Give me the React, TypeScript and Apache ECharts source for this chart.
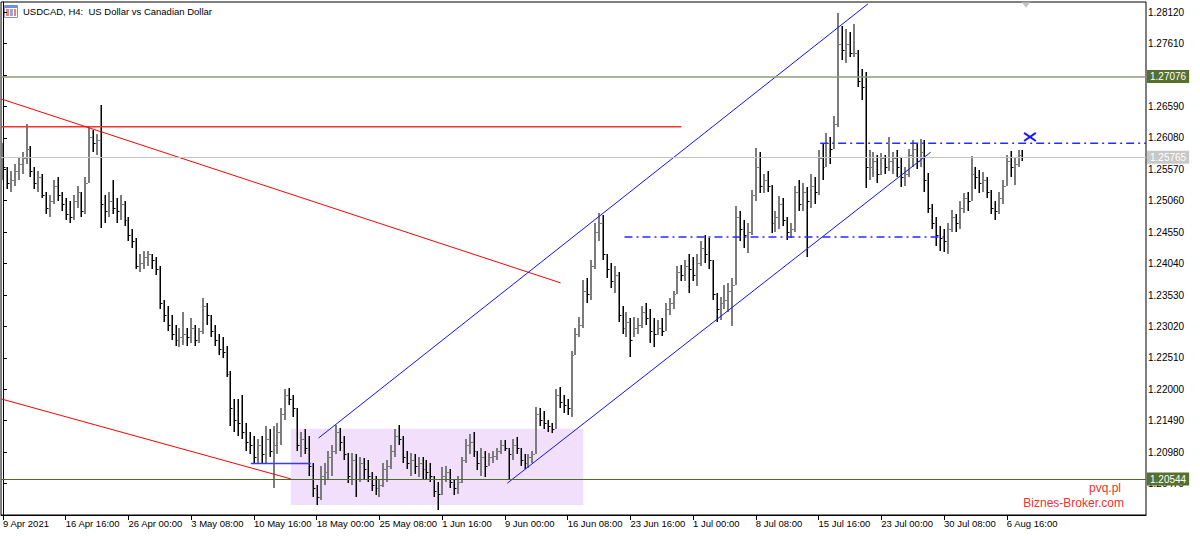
import React, { useEffect, useRef } from "react";
import * as echarts from "echarts";

// Prices are stored in points (0.0001) above 1.20000
const BASE = 1.2;
const POINT = 0.0001;
const FIRST_OPEN = 575;

// 8-hour bars
const HIGH = [
  600, 560, 555, 565, 575, 585, 631, 595, 560, 555, 550, 520, 515, 540, 545, 520, 510, 505, 515, 530,
  520, 545, 625, 620, 615, 661, 515, 520, 540, 510, 515, 505, 480, 460, 445, 420, 425, 425, 420, 415,
  400, 345, 335, 320, 305, 300, 325, 300, 315, 305, 300, 348, 340, 320, 305, 290, 285, 270, 230, 185,
  185, 190, 145, 130, 125, 120, 125, 140, 135, 140, 145, 170, 200, 202, 190, 170, 130, 135, 125, 80,
  45, 75, 80, 100, 110, 142, 137, 125, 97, 97, 95, 90, 88, 85, 65, 60, 55, 80, 85, 110,
  135, 142, 125, 100, 97, 95, 90, 90, 85, 80, 60, 50, 74, 75, 70, 55, 60, 90, 120, 128,
  131, 100, 105, 100, 97, 100, 105, 118, 118, 105, 120, 123, 105, 95, 95, 100, 172, 170, 165, 150,
  145, 200, 204, 190, 185, 262, 300, 318, 378, 380, 410, 470, 486, 483, 420, 405, 400, 390, 335, 325,
  315, 318, 315, 335, 340, 330, 315, 313, 315, 340, 348, 360, 400, 402, 410, 420, 415, 420, 440, 451,
  445, 410, 356, 350, 370, 372, 380, 497, 490, 475, 470, 523, 591, 585, 550, 555, 532, 490, 513, 510,
  480, 470, 530, 540, 535, 529, 550, 545, 589, 600, 616, 610, 643, 810, 789, 785, 780, 792, 750, 720,
  715, 589, 585, 580, 583, 580, 610, 585, 589, 575, 560, 590, 605, 600, 606, 605, 551, 500, 480, 465,
  460, 470, 491, 485, 505, 518, 520, 578, 560, 556, 552, 545, 524, 505, 520, 540, 580, 586, 575, 588,
  589,
];
const LOW = [
  540, 525, 520, 530, 540, 550, 565, 545, 525, 520, 510, 485, 480, 500, 505, 490, 475, 470, 475, 495,
  480, 485, 535, 585, 580, 462, 470, 480, 485, 470, 475, 465, 440, 430, 395, 390, 395, 400, 395, 385,
  330, 310, 295, 280, 270, 268, 272, 270, 275, 270, 275, 290, 305, 285, 270, 255, 250, 220, 140, 130,
  125, 120, 100, 95, 78, 78, 80, 80, 90, 40, 95, 110, 150, 175, 155, 100, 90, 95, 60, 25,
  12, 20, 45, 55, 60, 95, 100, 85, 48, 45, 25, 50, 55, 50, 35, 28, 25, 42, 50, 70,
  90, 110, 80, 70, 60, 62, 58, 55, 53, 50, 25, 4, 28, 50, 40, 29, 30, 48, 80, 95,
  90, 69, 60, 58, 75, 80, 85, 95, 100, 53, 85, 95, 75, 70, 72, 80, 95, 140, 135, 130,
  129, 135, 170, 162, 158, 155, 255, 285, 300, 340, 345, 395, 440, 410, 380, 365, 356, 310, 290, 285,
  252, 285, 290, 300, 305, 275, 269, 288, 286, 295, 320, 330, 355, 375, 375, 356, 375, 367, 400, 405,
  395, 345, 310, 313, 330, 325, 302, 370, 440, 430, 421, 450, 505, 518, 518, 520, 453, 455, 460, 465,
  442, 445, 455, 490, 490, 415, 495, 500, 515, 540, 560, 565, 590, 625, 735, 730, 740, 740, 690, 670,
  526, 540, 545, 535, 548, 550, 555, 550, 545, 529, 530, 545, 560, 558, 560, 520, 486, 460, 432, 425,
  423, 420, 455, 455, 460, 486, 490, 505, 525, 518, 520, 510, 485, 475, 485, 500, 530, 545, 532, 560,
  570,
];
const CLOSE = [
  560, 535, 540, 555, 565, 575, 590, 555, 535, 545, 515, 495, 505, 530, 515, 500, 485, 480, 505, 520,
  490, 535, 610, 600, 605, 500, 490, 505, 495, 490, 500, 475, 450, 440, 400, 405, 415, 420, 410, 395,
  340, 320, 305, 290, 280, 285, 290, 285, 300, 280, 295, 335, 320, 295, 280, 265, 260, 225, 170, 150,
  145, 130, 115, 110, 90, 110, 95, 120, 100, 110, 130, 160, 190, 185, 170, 110, 120, 105, 75, 40,
  25, 60, 65, 90, 100, 130, 115, 95, 60, 85, 55, 80, 70, 60, 45, 40, 45, 70, 75, 100,
  125, 120, 90, 80, 85, 75, 80, 70, 65, 60, 35, 30, 60, 65, 50, 40, 50, 85, 110, 115,
  100, 80, 90, 75, 90, 92, 100, 110, 105, 95, 110, 105, 85, 80, 90, 95, 160, 150, 145, 140,
  135, 190, 180, 175, 170, 255, 290, 305, 360, 355, 400, 455, 470, 420, 395, 375, 385, 320, 300, 310,
  280, 300, 305, 325, 315, 295, 290, 300, 295, 330, 340, 355, 390, 385, 400, 395, 385, 405, 430, 420,
  410, 355, 330, 340, 345, 360, 370, 480, 460, 450, 455, 515, 560, 530, 540, 530, 470, 480, 500, 475,
  455, 460, 520, 500, 520, 505, 530, 520, 575, 560, 600, 590, 630, 760, 750, 760, 745, 745, 700, 690,
  560, 560, 570, 550, 575, 560, 570, 575, 560, 545, 550, 580, 590, 570, 585, 540, 495, 470, 450, 445,
  440, 460, 480, 470, 495, 510, 505, 550, 545, 535, 540, 520, 495, 490, 510, 530, 570, 560, 565, 580,
  577,
];

const TICK_LABELS = [
  "9 Apr 2021", "16 Apr 16:00", "26 Apr 00:00", "3 May 08:00", "10 May 16:00", "18 May 00:00",
  "25 May 08:00", "1 Jun 16:00", "9 Jun 00:00", "16 Jun 08:00", "23 Jun 16:00", "1 Jul 00:00",
  "8 Jul 08:00", "15 Jul 16:00", "23 Jul 00:00", "30 Jul 08:00", "6 Aug 16:00",
];
const BARS_PER_LABEL = 16;
const SLOTS = 292; // bars + empty shift on the right

const Y_MIN = 1.1996;
const Y_MAX = 1.28285;
const Y_STEP = 0.0051;

// horizontal price levels with tags on the price scale
const LEVEL_PRICES = [1.27076, 1.25765, 1.20544];
const LEVEL_KINDS = ["green", "gray", "dark"];

// drawn objects, in (bar index, price)
const RED_LEVEL = [[-0.5, 1.26259], [173, 1.26259]];
const RED_TREND_UPPER = [[-0.5, 1.26713], [142.2, 1.23727]];
const RED_TREND_LOWER = [[-0.5, 1.21844], [73.4, 1.20546]];
const BLUE_CHANNEL_UPPER = [[80.5, 1.21210], [220.6, 1.28255]];
const BLUE_CHANNEL_LOWER = [[128.6, 1.20476], [236.6, 1.25848]];
const BLUE_SHORT_LEVEL = [[63.2, 1.20795], [78.5, 1.20795]];
const BLUE_DASH_UPPER = [[208.4, 1.25994], [291.5, 1.25994]];
const BLUE_DASH_LOWER = [[158.5, 1.24473], [240.8, 1.24473]];
const BOX_ZONE = [[73.4, 1.21358], [148, 1.20124]];
const CROSS_A = [[260.4, 1.26160], [263.4, 1.26030]];
const CROSS_B = [[260.4, 1.26030], [263.4, 1.26160]];
const SHIFT_MARK = [[260.9, 1.28240]];

const FONT = "'Liberation Sans', Arial, sans-serif";

const toPrice = (v: number) => +(BASE + v * POINT).toFixed(5);

export default function App() {
  const ref = useRef<HTMLDivElement>(null);

  useEffect(() => {
    if (!ref.current) return;
    const chart = echarts.init(ref.current, undefined, { renderer: "svg" });

    const categories = Array.from({ length: SLOTS }, (_, i) =>
      i % BARS_PER_LABEL === 0 && TICK_LABELS[i / BARS_PER_LABEL] ? TICK_LABELS[i / BARS_PER_LABEL] : "bar " + i
    );
    const bars = CLOSE.map((c, i) => {
      const o = i === 0 ? FIRST_OPEN : CLOSE[i - 1];
      return [i, toPrice(o), toPrice(c), toPrice(LOW[i]), toPrice(HIGH[i])];
    });
    const isLabel = (i: number) => i % BARS_PER_LABEL === 0 && i / BARS_PER_LABEL < TICK_LABELS.length;

    const seg = (data: number[][], color: string, width: number, type: any = "solid", z = 3) => ({
      type: "line",
      xAxisIndex: 1,
      yAxisIndex: 0,
      data,
      symbol: "none",
      silent: true,
      z,
      lineStyle: { color, width, type },
    });

    const levelStyle: Record<string, any> = {
      green: { line: "#8c9c70", width: 1.5, bg: "#56702f", fg: "#ffffff" },
      gray: { line: "#c4c4c4", width: 1, bg: "#c8c8c8", fg: "#ffffff" },
      dark: { line: "#4e6a2a", width: 1, bg: "#56702f", fg: "#ffffff" },
    };

    const UP = "#7c7c7c";
    const DOWN = "#000000";
    const renderBar = (params: any, api: any) => {
      const i = api.value(0);
      const o = api.value(1);
      const c = api.value(2);
      const pH = api.coord([i, api.value(4)]);
      const pL = api.coord([i, api.value(3)]);
      const pO = api.coord([i, o]);
      const pC = api.coord([i, c]);
      const x = Math.round(pH[0]);
      const up = c >= o;
      const top = Math.round(pH[1]);
      const h = Math.max(1, Math.round(pL[1]) - top);
      return {
        type: "group",
        children: [
          { type: "rect", shape: { x: x - 1, y: top, width: 1, height: h }, style: { fill: UP } },
          { type: "rect", shape: { x: x, y: top, width: 1, height: h }, style: { fill: up ? UP : DOWN } },
          { type: "rect", shape: { x: x - 2, y: Math.round(pO[1]), width: 1, height: 1 }, style: { fill: UP } },
          { type: "rect", shape: { x: x + 1, y: Math.round(pC[1]), width: 1, height: 1 }, style: { fill: up ? UP : DOWN } },
        ],
      };
    };

    const option: any = {
      animation: false,
      backgroundColor: "#ffffff",
      textStyle: { fontFamily: FONT },
      grid: {
        left: 1,
        right: 54,
        top: 2,
        bottom: 21,
        show: true,
        borderColor: "#000",
        borderWidth: 1,
        backgroundColor: "transparent",
      },
      xAxis: [
        {
          type: "category",
          data: categories,
          boundaryGap: true,
          axisLine: { show: true, lineStyle: { color: "#000", width: 1 } },
          axisTick: {
            show: true,
            alignWithLabel: true,
            interval: (i: number) => isLabel(i),
            length: 5,
            lineStyle: { color: "#000" },
          },
          axisLabel: {
            interval: (i: number) => isLabel(i),
            formatter: (_v: string, i: number) => (isLabel(i) ? TICK_LABELS[i / BARS_PER_LABEL] : ""),
            align: "left",
            fontSize: 9.5,
            color: "#000",
            margin: 3,
            fontFamily: FONT,
          },
          splitLine: { show: false },
        },
        { type: "value", min: -0.5, max: SLOTS - 0.5, show: false },
      ],
      yAxis: {
        type: "value",
        position: "right",
        min: Y_MIN,
        max: Y_MAX,
        interval: Y_STEP,
        axisLine: { show: true, lineStyle: { color: "#000" } },
        axisTick: { show: true, length: 4, lineStyle: { color: "#000" } },
        axisLabel: {
          formatter: (v: number) => v.toFixed(5),
          showMinLabel: false,
          showMaxLabel: false,
          fontSize: 10,
          margin: 2,
          color: "#000",
          fontFamily: FONT,
        },
        splitLine: { show: false },
      },
      series: [
        {
          type: "line",
          xAxisIndex: 1,
          yAxisIndex: 0,
          data: [],
          silent: true,
          z: 1,
          markArea: {
            silent: true,
            itemStyle: { color: "#f1dffb" },
            data: [[{ coord: BOX_ZONE[0] }, { coord: BOX_ZONE[1] }]],
          },
        },
        {
          type: "line",
          xAxisIndex: 1,
          yAxisIndex: 0,
          data: [],
          silent: true,
          z: 1,
          markLine: {
            silent: true,
            precision: 5,
            symbol: ["none", "none"],
            data: LEVEL_PRICES.map((p, k) => {
              const s = levelStyle[LEVEL_KINDS[k]];
              return {
                yAxis: p,
                lineStyle: { color: s.line, width: s.width, type: "solid" },
                label: {
                  show: true,
                  position: "end",
                  distance: 1,
                  formatter: p.toFixed(5),
                  backgroundColor: s.bg,
                  color: s.fg,
                  fontSize: 10,
                  fontFamily: FONT,
                  padding: [2, 3, 1, 3],
                },
              };
            }),
          },
        },
        {
          type: "custom",
          xAxisIndex: 0,
          yAxisIndex: 0,
          data: bars,
          encode: { x: 0, y: [1, 2, 3, 4] },
          renderItem: renderBar,
          silent: true,
          clip: true,
          z: 2,
        },
        seg(RED_LEVEL, "#ff3030", 1.5),
        seg(RED_TREND_UPPER, "#ff0000", 1),
        seg(RED_TREND_LOWER, "#ff0000", 1),
        seg(BLUE_CHANNEL_UPPER, "#1010ff", 1),
        seg(BLUE_CHANNEL_LOWER, "#1010ff", 1),
        seg(BLUE_SHORT_LEVEL, "#3a3aff", 1.5),
        seg(BLUE_DASH_UPPER, "#2a2aff", 1.5, [8, 4, 2, 4]),
        seg(BLUE_DASH_LOWER, "#2a2aff", 1.5, [8, 4, 2, 4]),
        seg(CROSS_A, "#1a1aff", 2),
        seg(CROSS_B, "#1a1aff", 2),
        {
          type: "scatter",
          xAxisIndex: 1,
          yAxisIndex: 0,
          data: SHIFT_MARK,
          symbol: "triangle",
          symbolRotate: 180,
          symbolSize: [9, 6],
          silent: true,
          itemStyle: { color: "#b4b4b4" },
          z: 4,
        },
      ],
      graphic: [
        { type: "rect", left: 4, top: 5, shape: { width: 13, height: 12 }, style: { fill: "#ffffff", stroke: "#7b93c6", lineWidth: 1 } },
        { type: "rect", left: 5, top: 6, shape: { width: 12, height: 2 }, style: { fill: "#6f8fd6" } },
        { type: "rect", left: 6, top: 9, shape: { width: 3, height: 7 }, style: { fill: "#f08070" } },
        { type: "rect", left: 10, top: 9, shape: { width: 3, height: 7 }, style: { fill: "#8fa8e8" } },
        { type: "rect", left: 14, top: 9, shape: { width: 2, height: 7 }, style: { fill: "#f08070" } },
        {
          type: "text",
          left: 23,
          top: 6,
          style: { text: "USDCAD, H4:  US Dollar vs Canadian Dollar", font: `9.5px ${FONT}`, fill: "#000" },
        },
        {
          type: "text",
          right: 1200 - 1121,
          top: 482,
          style: { text: "pvq.pl", font: `12px ${FONT}`, fill: "#ee3030", textAlign: "right" },
        },
        {
          type: "text",
          right: 1200 - 1124,
          top: 497,
          style: { text: "Biznes-Broker.com", font: `12px ${FONT}`, fill: "#ee3030", textAlign: "right" },
        },
      ],
    };

    chart.setOption(option);
    return () => chart.dispose();
  }, []);

  return (
    <div
      ref={ref}
      style={{ position: "absolute", left: 0, top: 0, width: 1200, height: 536, background: "#fff" }}
    />
  );
}
